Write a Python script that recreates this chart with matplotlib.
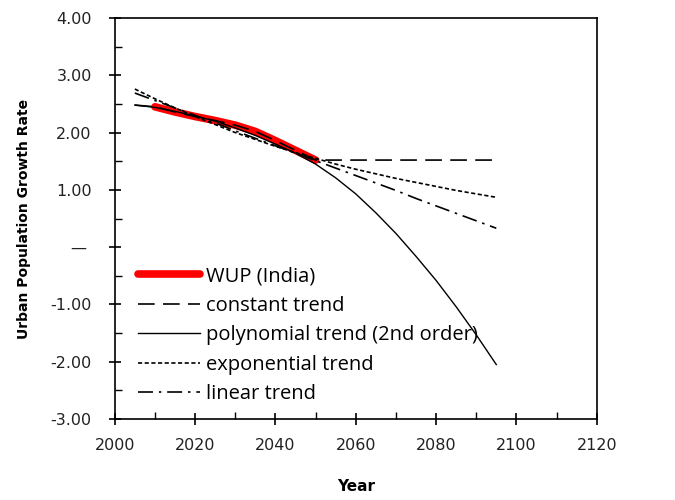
import numpy as np
import matplotlib.pyplot as plt
from matplotlib.ticker import MultipleLocator, FuncFormatter

# WUP (India) urban population growth rate
wup_years = [2010, 2015, 2020, 2025, 2030, 2035, 2040, 2045, 2050]
wup_rate = [2.45, 2.36, 2.28, 2.21, 2.13, 2.02, 1.86, 1.69, 1.52]

trend_years = [2005, 2010, 2015, 2020, 2025, 2030, 2035, 2040, 2045, 2050,
               2055, 2060, 2065, 2070, 2075, 2080, 2085, 2090, 2095]
constant_trend = [2.48, 2.45, 2.36, 2.28, 2.21, 2.13, 2.02, 1.86, 1.69, 1.52,
                  1.52, 1.52, 1.52, 1.52, 1.52, 1.52, 1.52, 1.52, 1.52]
poly_trend = [2.48, 2.44, 2.37, 2.29, 2.20, 2.08, 1.95, 1.80, 1.64, 1.45,
              1.21, 0.93, 0.60, 0.24, -0.16, -0.58, -1.04, -1.53, -2.05]
exp_trend = [2.76, 2.59, 2.43, 2.28, 2.14, 2.00, 1.88, 1.76, 1.65, 1.55,
             1.45, 1.36, 1.28, 1.20, 1.13, 1.06, 0.99, 0.93, 0.87]
linear_trend = [2.69, 2.56, 2.43, 2.30, 2.17, 2.03, 1.90, 1.77, 1.64, 1.51,
                1.38, 1.25, 1.12, 0.99, 0.85, 0.72, 0.59, 0.46, 0.33]

fig = plt.figure(figsize=(6.75, 5), dpi=100)
ax = fig.add_axes([0.170, 0.162, 0.714, 0.802])

ax.plot(wup_years, wup_rate, color='#ff0000', linewidth=5.5,
        solid_capstyle='round', label='WUP (India)', zorder=3)
ax.plot(trend_years, constant_trend, color='black', linewidth=1.2,
        dashes=(10, 5), label='constant trend', zorder=4)
ax.plot(trend_years, poly_trend, color='black', linewidth=1.0,
        label='polynomial trend (2nd order)', zorder=4)
ax.plot(trend_years, exp_trend, color='black', linewidth=1.2,
        dashes=(2.5, 1.5), label='exponential trend', zorder=4)
ax.plot(trend_years, linear_trend, color='black', linewidth=1.2,
        dashes=(9, 3.5, 1.5, 3.5), label='linear trend', zorder=4)

ax.set_xlim(2000, 2120)
ax.set_ylim(-3, 4)
ax.xaxis.set_major_locator(MultipleLocator(20))
ax.xaxis.set_minor_locator(MultipleLocator(10))
ax.yaxis.set_major_locator(MultipleLocator(1))
ax.yaxis.set_minor_locator(MultipleLocator(0.5))
ax.yaxis.set_major_formatter(FuncFormatter(lambda v, p: '\u2014 ' if abs(v) < 1e-9 else f'{v:.2f}'))

ax.tick_params(which='major', direction='inout', length=9, width=1.2,
               labelsize=11.5, colors='black', labelcolor='#222222')
ax.tick_params(which='minor', direction='in', length=5, width=1.0)
ax.tick_params(axis='x', pad=9)
ax.tick_params(axis='y', pad=12)
for s in ax.spines.values():
    s.set_linewidth(1.2)

ax.set_xlabel('Year', fontsize=11, fontweight='bold', labelpad=19)
ax.set_ylabel('Urban Population Growth Rate', fontsize=10, fontweight='bold', labelpad=14)

leg = ax.legend(loc='lower left', bbox_to_anchor=(0.01, -0.008), frameon=False,
                prop={'family': 'Open Sans', 'size': 14.5}, handlelength=3.1,
                handletextpad=0.3, labelspacing=0.47)

fig.savefig('out.png', dpi=100)
